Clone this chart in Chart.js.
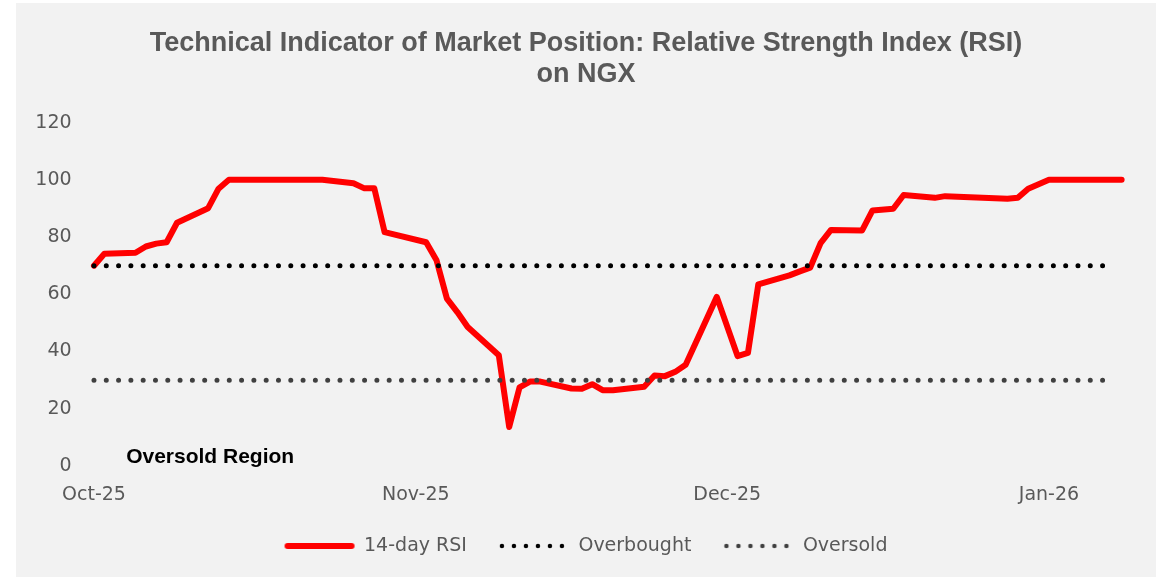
<!DOCTYPE html>
<html>
<head>
<meta charset="utf-8">
<script src="https://cdn.jsdelivr.net/npm/chart.js@4/dist/chart.umd.min.js"></script>
<style>
  body { margin: 0; background: #ffffff; }
  #wrap { position: absolute; left: 16px; top: 3px; width: 1140px; height: 574px; background: #f2f2f2; }
</style>
</head>
<body>
<div id="wrap"><canvas id="myChart"></canvas></div>
<script>
// days counted from 1 Oct 2025
var rsiDays = [0, 1, 4, 5, 6, 7, 8, 11, 12, 13, 22, 25, 26, 27, 28, 32, 33, 34, 35, 36, 39, 40, 41, 42, 43,
    46, 47, 48, 49, 50, 53, 54, 55, 56, 57, 60, 62, 63, 64, 67, 68, 69, 70, 71, 74, 75, 77, 78, 81, 82,
    88, 89, 90, 92, 99];
var rsiValues = [70, 74.2, 74.5, 76.7, 77.7, 78.2, 85, 90.1, 96.9, 100, 100, 98.8, 97.1, 97.1, 81.7, 78.2, 71.9, 58.5, 53.8, 48.6, 38.7, 13.6, 27.5, 29.5, 29.5,
    27.1, 27, 28.6, 26.5, 26.5, 27.7, 31.6, 31.4, 32.9, 35.4, 59.1, 38.4, 39.5, 63.5, 66.6, 68, 69.3, 77.9, 82.5, 82.3, 89.3, 89.9, 94.7, 93.7, 94.3,
    93.4, 93.7, 96.9, 100, 100];
var levelDays = [0, 98];
var overbought = [70, 70];
var oversold = [30, 30];
var tickDays = [0, 31, 61, 92];
var tickLabels = ['Oct-25', 'Nov-25', 'Dec-25', 'Jan-26'];

function pts(xs, ys) {
    return xs.map(function (x, i) { return { x: x, y: ys[i] }; });
}

// little pictures for the legend (solid / dotted)
function marker(color, width, dotted) {
    var cv = document.createElement('canvas');
    cv.width = 72;
    cv.height = 8;
    var c = cv.getContext('2d');
    c.strokeStyle = color;
    c.lineWidth = width;
    c.lineCap = 'round';
    if (dotted) c.setLineDash([0, 12]);
    c.beginPath();
    c.moveTo(4, 4);
    c.lineTo(68, 4);
    c.stroke();
    return cv;
}
var markers = [marker('#ff0000', 6, false), marker('#000000', 4.5, true), marker('#404040', 4.5, true)];

var grey = '#595959';
var tickFont = { family: 'DejaVu Sans', size: 19 };

// text inside the plot
var regionLabel = {
    id: 'regionLabel',
    afterDatasetsDraw: function (chart) {
        var c = chart.ctx;
        c.save();
        c.font = 'bold 21px "Liberation Sans"';
        c.fillStyle = '#000000';
        c.textAlign = 'left';
        c.textBaseline = 'middle';
        c.fillText('Oversold Region', chart.scales.x.getPixelForValue(3.1), chart.scales.y.getPixelForValue(3.1));
        c.restore();
    }
};

var ctx = document.getElementById('myChart').getContext('2d');
var chart = new Chart(ctx, {
    type: 'line',
    data: {
        datasets: [{
            label: '14-day RSI',
            data: pts(rsiDays, rsiValues),
            borderColor: '#ff0000',
            borderWidth: 6,
            borderCapStyle: 'round',
            borderJoinStyle: 'round',
            pointRadius: 0,
            order: 1
        }, {
            label: 'Overbought',
            data: pts(levelDays, overbought),
            borderColor: '#000000',
            borderWidth: 5,
            borderDash: [0, 12.3],
            borderCapStyle: 'round',
            pointRadius: 0,
            order: 0
        }, {
            label: 'Oversold',
            data: pts(levelDays, oversold),
            borderColor: '#404040',
            borderWidth: 5,
            borderDash: [0, 12.3],
            borderCapStyle: 'round',
            pointRadius: 0,
            order: 0
        }]
    },
    options: {
        responsive: true,
        maintainAspectRatio: false,
        animation: false,
        layout: { padding: { left: 16, right: 16, top: 0, bottom: 11.5 } },
        plugins: {
            tooltip: { enabled: false },
            title: {
                display: true,
                text: ['Technical Indicator of Market Position: Relative Strength Index (RSI)', 'on NGX'],
                color: grey,
                font: { family: 'Liberation Sans', size: 27, weight: 'bold', lineHeight: 1.15 },
                padding: { top: 25, bottom: 32.5 }
            },
            legend: {
                position: 'bottom',
                labels: {
                    usePointStyle: true,
                    pointStyleWidth: 70,
                    padding: 32,
                    color: grey,
                    font: tickFont,
                    sort: function (a, b) { return a.datasetIndex - b.datasetIndex; },
                    generateLabels: function (chart) {
                        var items = Chart.defaults.plugins.legend.labels.generateLabels(chart);
                        items.forEach(function (it) { it.pointStyle = markers[it.datasetIndex]; });
                        return items;
                    }
                }
            }
        },
        scales: {
            x: {
                type: 'linear',
                min: -1,
                max: 100.77,
                grid: { display: false, drawTicks: false },
                border: { display: false },
                afterBuildTicks: function (scale) {
                    scale.ticks = tickDays.map(function (d) { return { value: d }; });
                },
                afterFit: function (scale) { scale.height = 38.5; },
                ticks: {
                    autoSkip: false,
                    maxRotation: 0,
                    padding: 18,
                    color: grey,
                    font: tickFont,
                    callback: function (v) {
                        var i = tickDays.indexOf(v);
                        return i >= 0 ? tickLabels[i] : '';
                    }
                }
            },
            y: {
                min: 0,
                max: 120,
                grid: { display: false, drawTicks: false },
                border: { display: false },
                afterFit: function (scale) { scale.width = 51.6; },
                ticks: { stepSize: 20, padding: 12, color: grey, font: tickFont }
            }
        }
    },
    plugins: [regionLabel]
});
</script>
</body>
</html>
